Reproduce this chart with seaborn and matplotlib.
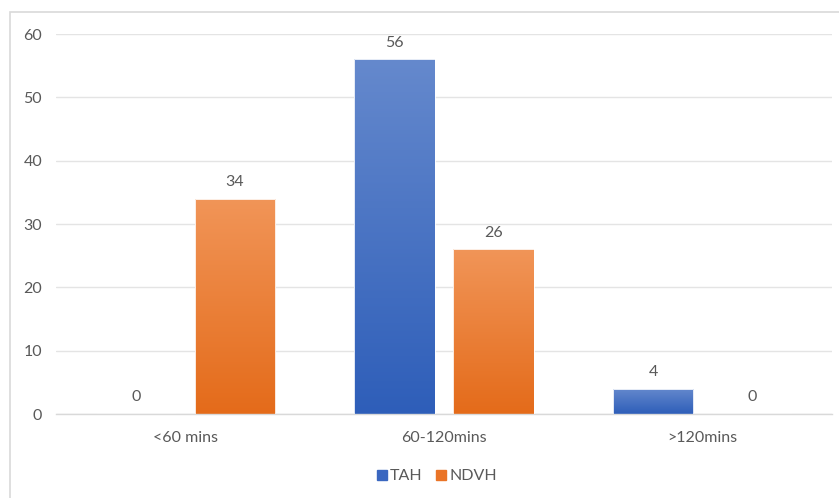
import numpy as np
import pandas as pd
import matplotlib
matplotlib.use("Agg")
import matplotlib.pyplot as plt
from matplotlib.patches import Rectangle
from matplotlib.colors import LinearSegmentedColormap
from matplotlib.lines import Line2D
import seaborn as sns

categories = ["<60 mins", "60-120mins", ">120mins"]
series = ["TAH", "NDVH"]
tah_values = [0, 56, 4]
ndvh_values = [34, 26, 0]
y_ticks = [0, 10, 20, 30, 40, 50, 60]

df = pd.DataFrame({
    "category": categories * 2,
    "group": [series[0]] * 3 + [series[1]] * 3,
    "value": tah_values + ndvh_values,
})

sns.set_theme(style="white")
plt.rcParams["font.family"] = ["Lato", "DejaVu Sans"]

text_grey = "#595959"
grid_grey = "#e4e4e4"
gradients = {
    "TAH": ("#6589cd", "#2e5eb9"),
    "NDVH": ("#f19558", "#e46b1a"),
}
solid = {"TAH": "#3a67c0", "NDVH": "#ea7427"}
fs = 11.5

fig = plt.figure(figsize=(8.39, 4.98), dpi=100)
ax = fig.add_axes([56 / 839, 1 - 414 / 498, (832 - 56) / 839, (414 - 34) / 498])

sns.barplot(data=df, x="category", y="value", hue="group", order=categories,
            hue_order=series, palette=solid, width=0.765, gap=0.19,
            legend=False, ax=ax)

ax.set_ylim(0, 60)
ax.set_xlim(-0.5, 2.5)
ax.set_yticks(y_ticks)
ax.set_xlabel("")
ax.set_ylabel("")
ax.yaxis.grid(True, color=grid_grey, linewidth=1)
ax.set_axisbelow(True)
for side in ["left", "right", "top"]:
    ax.spines[side].set_visible(False)
ax.spines["bottom"].set_color("#d9d9d9")
ax.spines["bottom"].set_linewidth(1)
ax.tick_params(axis="both", length=0, labelsize=fs, labelcolor=text_grey)
ax.tick_params(axis="x", pad=12)
ax.tick_params(axis="y", pad=10)

# Gradient fill for each bar: lighter at the top, darker at the base
for container, name in zip(ax.containers, series):
    top_c, bot_c = gradients[name]
    cmap = LinearSegmentedColormap.from_list(name, [bot_c, top_c])
    for bar in container:
        x0, w, h = bar.get_x(), bar.get_width(), bar.get_height()
        if h > 0:
            grad = np.linspace(0, 1, 256).reshape(-1, 1)
            im = ax.imshow(grad, cmap=cmap, origin="lower", aspect="auto",
                           extent=(x0, x0 + w, 0, h), zorder=2)
            im.set_clip_path(bar)
            bar.set_facecolor("none")
            bar.set_edgecolor("#ffffff")
            bar.set_linewidth(0.6)
            bar.set_zorder(3)
    ax.bar_label(container, labels=[str(int(v)) for v in container.datavalues],
                 padding=7, fontsize=fs, color=text_grey)

ax.set_xlim(-0.5, 2.5)
ax.set_ylim(0, 60)

handles = [Line2D([], [], marker="s", linestyle="none", markersize=7,
                  markerfacecolor=solid[s], markeredgecolor=solid[s], label=s)
           for s in series]
fig.legend(handles=handles, loc="center", bbox_to_anchor=(436 / 839, 1 - 476 / 498),
           ncol=2, frameon=False, fontsize=fs, labelcolor=text_grey,
           handletextpad=0.1, columnspacing=0.8, handlelength=0.8)

# Chart-area border
fig.patches.append(Rectangle((10 / 839, -0.1), 1.0, 1 - 12 / 498 + 0.1,
                             transform=fig.transFigure, fill=False,
                             edgecolor="#d9d9d9", linewidth=1.2))

fig.savefig("out.png", dpi=100)
